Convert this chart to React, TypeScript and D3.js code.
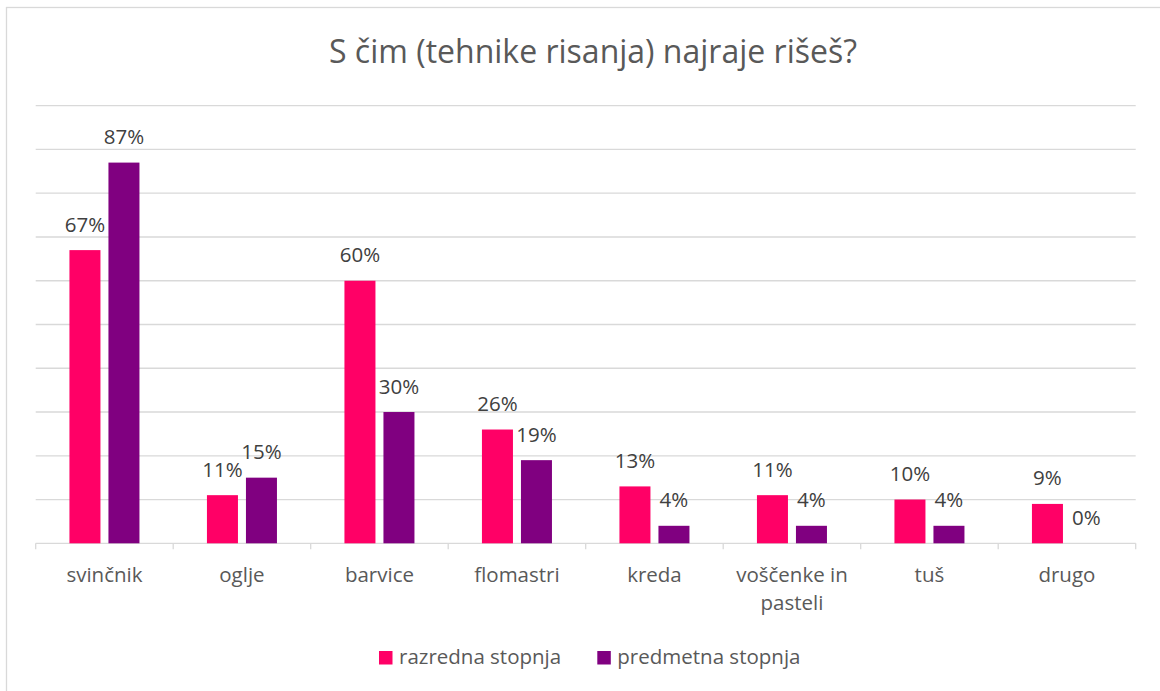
import React, { useEffect, useRef } from 'react';
import * as d3 from 'd3';

const title = 'S čim (tehnike risanja) najraje rišeš?';
const categories = ['svinčnik', 'oglje', 'barvice', 'flomastri', 'kreda', 'voščenke in pasteli', 'tuš', 'drugo'];
const seriesNames = ['razredna stopnja', 'predmetna stopnja'];
const razredna = [67, 11, 60, 26, 13, 11, 10, 9];
const predmetna = [87, 15, 30, 19, 4, 4, 4, 0];
const yTicks = [0, 10, 20, 30, 40, 50, 60, 70, 80, 90, 100];
const colors = ['#FF0066', '#800080'];

const font = '"Open Sans", "Noto Sans", sans-serif';
const textColor = '#595959';
const gridColor = '#D9D9D9';
const fs = '20.5px';

function wrap(sel: any, width: number) {
  sel.each(function (this: SVGTextElement) {
    const text = d3.select(this);
    const words = text.text().split(/\s+/).reverse();
    const x = text.attr('x');
    const y = text.attr('y');
    let line: string[] = [];
    let lineNo = 0;
    let word;
    let tspan = text.text(null).append('tspan').attr('x', x).attr('y', y);
    while ((word = words.pop())) {
      line.push(word);
      tspan.text(line.join(' '));
      if ((tspan.node() as SVGTSpanElement).getComputedTextLength() > width && line.length > 1) {
        line.pop();
        tspan.text(line.join(' '));
        line = [word];
        lineNo++;
        tspan = text.append('tspan').attr('x', x).attr('y', +y! + lineNo * 28).text(word);
      }
    }
  });
}

function BarChart() {
  const ref = useRef<SVGSVGElement>(null);

  useEffect(() => {
    const svg = d3.select(ref.current);
    svg.selectAll('*').remove();

    const left = 35.7, right = 1135.7, top = 105.7, bottom = 543.3;

    // chart frame
    svg.append('rect')
      .attr('x', 6.5).attr('y', 7.5)
      .attr('width', 1200).attr('height', 750)
      .attr('fill', '#fff').attr('stroke', gridColor).attr('stroke-width', 1.3);

    svg.append('text')
      .attr('x', 593).attr('y', 63)
      .attr('text-anchor', 'middle')
      .style('font-family', font).style('font-size', '32px')
      .attr('fill', textColor)
      .text(title);

    const x0 = d3.scaleBand().domain(categories).range([left, right]).padding(0);
    const x1 = d3.scaleBand().domain(seriesNames).range([0, x0.bandwidth()])
      .paddingInner(0.205).paddingOuter(0.865);
    const y = d3.scaleLinear().domain([0, 100]).range([bottom, top]);

    // gridlines
    svg.append('g').selectAll('line')
      .data(yTicks.filter(d => d > 0)).enter()
      .append('line')
      .attr('x1', left).attr('x2', right)
      .attr('y1', d => y(d)).attr('y2', d => y(d))
      .attr('stroke', gridColor).attr('stroke-width', 1.3);

    // x axis
    const xAxis = svg.append('g')
      .attr('transform', 'translate(0,' + bottom + ')')
      .call(d3.axisBottom(x0).tickSize(0).tickPadding(0).tickFormat(() => ''));
    xAxis.select('.domain').attr('stroke', gridColor).attr('stroke-width', 1.3)
      .attr('d', `M${left},0H${right}`);
    xAxis.selectAll('.tick').remove();
    xAxis.selectAll('line.sep')
      .data(d3.range(categories.length + 1)).enter()
      .append('line').attr('class', 'sep')
      .attr('x1', i => left + i * x0.step()).attr('x2', i => left + i * x0.step())
      .attr('y1', 0).attr('y2', 6)
      .attr('stroke', gridColor).attr('stroke-width', 1.3);

    svg.append('g').selectAll('text')
      .data(categories).enter()
      .append('text')
      .attr('x', d => x0(d)! + x0.bandwidth() / 2)
      .attr('y', 582)
      .attr('text-anchor', 'middle')
      .style('font-family', font).style('font-size', fs)
      .attr('fill', textColor)
      .text(d => d)
      .call(wrap, 125);

    const series = [razredna, predmetna];
    series.forEach((vals, si) => {
      const g = svg.append('g');
      g.selectAll('rect')
        .data(vals).enter()
        .append('rect')
        .attr('x', (d, i) => x0(categories[i])! + x1(seriesNames[si])!)
        .attr('y', d => y(d))
        .attr('width', x1.bandwidth())
        .attr('height', d => bottom - y(d))
        .attr('fill', colors[si]);
      g.selectAll('text')
        .data(vals).enter()
        .append('text')
        .attr('x', (d, i) => x0(categories[i])! + x1(seriesNames[si])! + x1.bandwidth() / 2)
        .attr('y', d => y(d) - 18.5)
        .attr('text-anchor', 'middle')
        .style('font-family', font).style('font-size', fs)
        .attr('fill', '#404040')
        .text(d => d + '%');
    });

    // legend
    const legendX = [379, 597.3];
    seriesNames.forEach((name, i) => {
      svg.append('rect')
        .attr('x', legendX[i]).attr('y', 651)
        .attr('width', 13.5).attr('height', 13.5)
        .attr('fill', colors[i]);
      svg.append('text')
        .attr('x', legendX[i] + 20).attr('y', 664)
        .style('font-family', font).style('font-size', fs)
        .attr('fill', textColor)
        .text(name);
    });
  }, []);

  return <svg ref={ref} width={1160} height={691} style={{ position: 'absolute', left: 0, top: 0 }} />;
}

export default function App() {
  return <BarChart />;
}
